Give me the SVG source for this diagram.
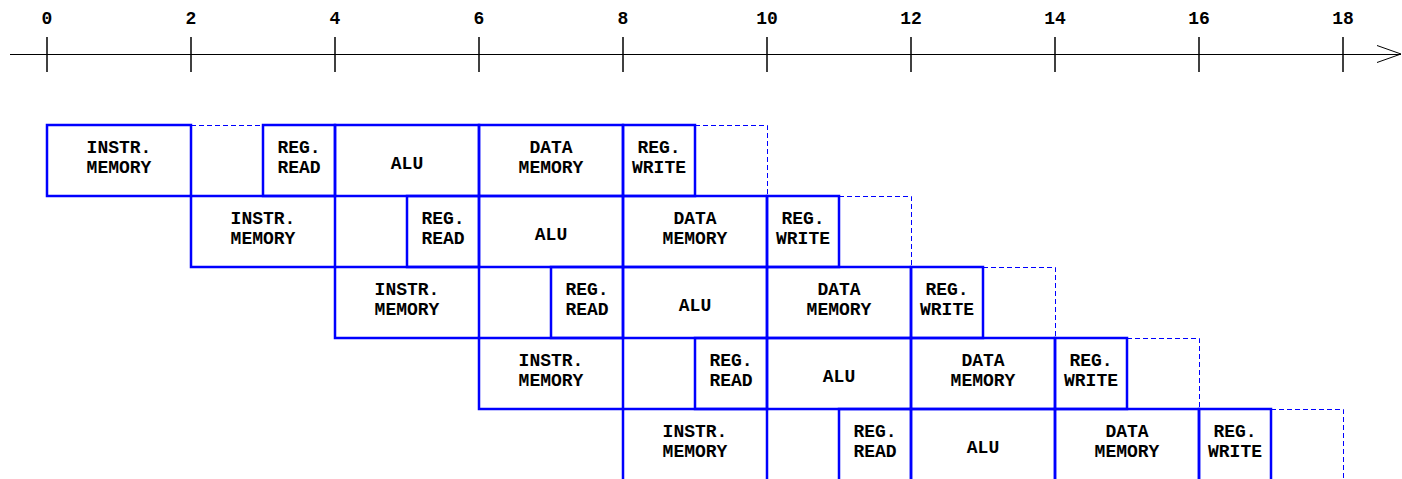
<svg xmlns="http://www.w3.org/2000/svg" width="1402" height="479" viewBox="0 0 1402 479">
<style>
.bx{fill:none;stroke:#0000ff;stroke-width:2.5}
.ds{fill:none;stroke:#0000ff;stroke-width:1;stroke-dasharray:5,3}
.ax{stroke:#000;stroke-width:1;fill:none}
.tk{stroke:#000;stroke-width:1.5}
text{font-family:"Liberation Mono","Courier New",monospace;font-weight:bold;font-size:18px;fill:#000;text-anchor:middle}
</style>
<rect width="1402" height="479" fill="#fff"/>
<g id="axis">
<line class="ax" x1="10" y1="54.5" x2="1401" y2="54.5"/>
<polyline class="ax" points="1377,45.5 1401,54 1377,62.5"/>
<g class="tk">
<line x1="47" y1="37" x2="47" y2="72"/><line x1="191" y1="37" x2="191" y2="72"/><line x1="335" y1="37" x2="335" y2="72"/><line x1="479" y1="37" x2="479" y2="72"/><line x1="623" y1="37" x2="623" y2="72"/><line x1="767" y1="37" x2="767" y2="72"/><line x1="911" y1="37" x2="911" y2="72"/><line x1="1055" y1="37" x2="1055" y2="72"/><line x1="1199" y1="37" x2="1199" y2="72"/><line x1="1343" y1="37" x2="1343" y2="72"/>
</g>
<text x="47" y="23.5">0</text><text x="191" y="23.5">2</text><text x="335" y="23.5">4</text><text x="479" y="23.5">6</text><text x="623" y="23.5">8</text><text x="767" y="23.5">10</text><text x="911" y="23.5">12</text><text x="1055" y="23.5">14</text><text x="1199" y="23.5">16</text><text x="1343" y="23.5">18</text>
</g>
<g id="connectors">
<path class="ds" d="M191,125.5H263 M695,125.5H767.5V196"/>
<path class="ds" d="M335,196.5H407 M839,196.5H911.5V267"/>
<path class="ds" d="M479,267.5H551 M983,267.5H1055.5V338"/>
<path class="ds" d="M623,338.5H695 M1127,338.5H1199.5V409"/>
<path class="ds" d="M767,409.5H839 M1271,409.5H1343.5V480"/>
</g>
<!-- row 1 -->
<g id="r1-im"><rect class="bx" x="47" y="125" width="144" height="71"/><text x="119" y="153">INSTR.</text><text x="119" y="172.5">MEMORY</text></g>
<g id="r1-rr"><rect class="bx" x="263" y="125" width="72" height="71"/><text x="299" y="153">REG.</text><text x="299" y="172.5">READ</text></g>
<g id="r1-alu"><rect class="bx" x="335" y="125" width="144" height="71"/><text x="407" y="168.5">ALU</text></g>
<g id="r1-dm"><rect class="bx" x="479" y="125" width="144" height="71"/><text x="551" y="153">DATA</text><text x="551" y="172.5">MEMORY</text></g>
<g id="r1-rw"><rect class="bx" x="623" y="125" width="72" height="71"/><text x="659" y="153">REG.</text><text x="659" y="172.5">WRITE</text></g>
<!-- row 2 -->
<g id="r2-im"><rect class="bx" x="191" y="196" width="144" height="71"/><text x="263" y="224">INSTR.</text><text x="263" y="243.5">MEMORY</text></g>
<g id="r2-rr"><rect class="bx" x="407" y="196" width="72" height="71"/><text x="443" y="224">REG.</text><text x="443" y="243.5">READ</text></g>
<g id="r2-alu"><rect class="bx" x="479" y="196" width="144" height="71"/><text x="551" y="239.5">ALU</text></g>
<g id="r2-dm"><rect class="bx" x="623" y="196" width="144" height="71"/><text x="695" y="224">DATA</text><text x="695" y="243.5">MEMORY</text></g>
<g id="r2-rw"><rect class="bx" x="767" y="196" width="72" height="71"/><text x="803" y="224">REG.</text><text x="803" y="243.5">WRITE</text></g>
<!-- row 3 -->
<g id="r3-im"><rect class="bx" x="335" y="267" width="144" height="71"/><text x="407" y="295">INSTR.</text><text x="407" y="314.5">MEMORY</text></g>
<g id="r3-rr"><rect class="bx" x="551" y="267" width="72" height="71"/><text x="587" y="295">REG.</text><text x="587" y="314.5">READ</text></g>
<g id="r3-alu"><rect class="bx" x="623" y="267" width="144" height="71"/><text x="695" y="310.5">ALU</text></g>
<g id="r3-dm"><rect class="bx" x="767" y="267" width="144" height="71"/><text x="839" y="295">DATA</text><text x="839" y="314.5">MEMORY</text></g>
<g id="r3-rw"><rect class="bx" x="911" y="267" width="72" height="71"/><text x="947" y="295">REG.</text><text x="947" y="314.5">WRITE</text></g>
<!-- row 4 -->
<g id="r4-im"><rect class="bx" x="479" y="338" width="144" height="71"/><text x="551" y="366">INSTR.</text><text x="551" y="385.5">MEMORY</text></g>
<g id="r4-rr"><rect class="bx" x="695" y="338" width="72" height="71"/><text x="731" y="366">REG.</text><text x="731" y="385.5">READ</text></g>
<g id="r4-alu"><rect class="bx" x="767" y="338" width="144" height="71"/><text x="839" y="381.5">ALU</text></g>
<g id="r4-dm"><rect class="bx" x="911" y="338" width="144" height="71"/><text x="983" y="366">DATA</text><text x="983" y="385.5">MEMORY</text></g>
<g id="r4-rw"><rect class="bx" x="1055" y="338" width="72" height="71"/><text x="1091" y="366">REG.</text><text x="1091" y="385.5">WRITE</text></g>
<!-- row 5 -->
<g id="r5-im"><rect class="bx" x="623" y="409" width="144" height="75"/><text x="695" y="437">INSTR.</text><text x="695" y="456.5">MEMORY</text></g>
<g id="r5-rr"><rect class="bx" x="839" y="409" width="72" height="75"/><text x="875" y="437">REG.</text><text x="875" y="456.5">READ</text></g>
<g id="r5-alu"><rect class="bx" x="911" y="409" width="144" height="75"/><text x="983" y="452.5">ALU</text></g>
<g id="r5-dm"><rect class="bx" x="1055" y="409" width="144" height="75"/><text x="1127" y="437">DATA</text><text x="1127" y="456.5">MEMORY</text></g>
<g id="r5-rw"><rect class="bx" x="1199" y="409" width="72" height="75"/><text x="1235" y="437">REG.</text><text x="1235" y="456.5">WRITE</text></g>
</svg>
